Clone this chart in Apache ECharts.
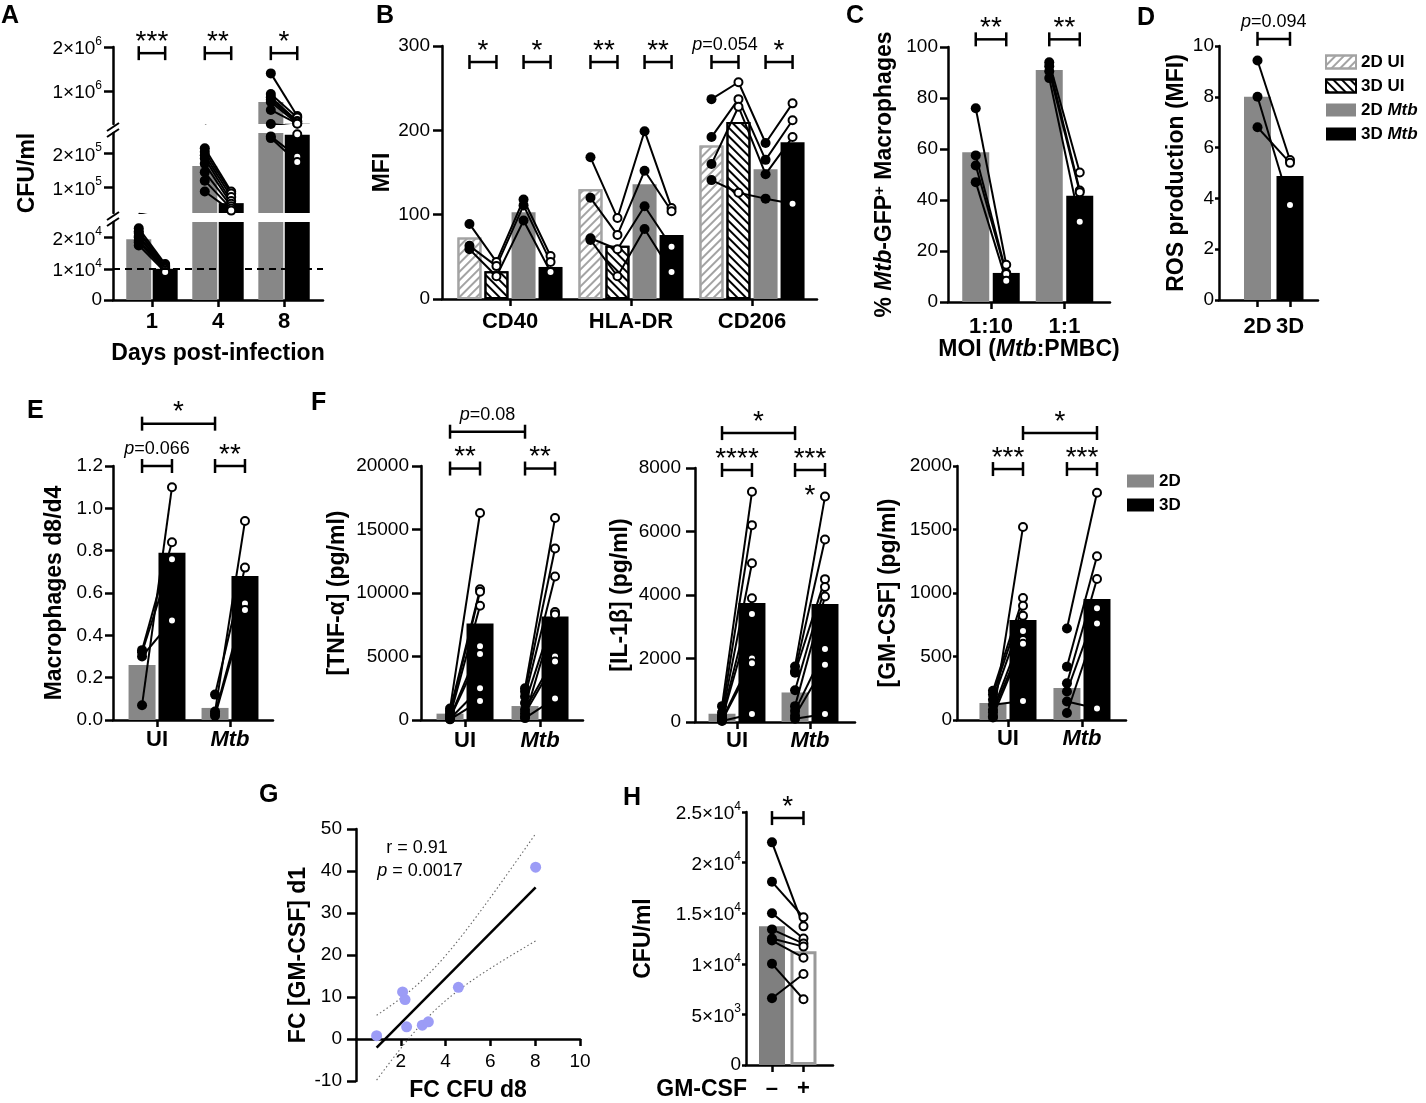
<!DOCTYPE html>
<html>
<head>
<meta charset="utf-8">
<title>Figure</title>
<script src="https://cdn.jsdelivr.net/npm/echarts@6.0.0/dist/echarts.min.js"></script>
<style>
html, body { margin: 0; padding: 0; background: #ffffff; }
#chart { width: 1426px; height: 1103px; }
</style>
</head>
<body>
<div id="chart"></div>
<script>
// ======================= DATA =======================
// Panel A – CFU/ml, days post-infection, 2D vs 3D
const aDays = ['1', '4', '8'];
const aBar2D = [19500, 163000, 750000];
const aBar3D = [10000, 54000, 255000];
const aPts2D = [
  [23000, 22000, 21500, 20500, 20000, 19000, 18500, 17500],
  [215000, 205000, 195000, 185000, 170000, 145000, 120000, 88000],
  [1400000, 930000, 860000, 800000, 750000, 570000, 250000, 245000]
];
const aPts3D = [
  [11500, 11000, 10800, 10500, 10200, 10000, 9500, 9000],
  [88000, 82000, 72000, 60000, 52000, 45000, 38000, 32000],
  [430000, 400000, 320000, 300000, 262000, 256000, 190000, 175000]
];
const aTicksTop = [1000000, 2000000];
const aTicksMid = [100000, 200000];
const aTicksLow = [0, 10000, 20000];
const aDetectionLimit = 10000;
const aSig = ['***', '**', '*'];

// Panel B – MFI of surface markers
const bMarkers = ['CD40', 'HLA-DR', 'CD206'];
const bConds = ['2D UI', '3D UI', '2D Mtb', '3D Mtb'];
const bBar2DUI = [73, 130, 182];
const bBar3DUI = [33, 63, 210];
const bBar2DMtb = [103, 136, 154];
const bBar3DMtb = [38, 76, 186];
const bDonorsCD40 = [[89, 44, 118, 51], [63, 39, 111, 44], [59, 27, 93, 32]];
const bDonorsHLADR = [[168, 96, 199, 108], [120, 76, 152, 104], [72, 59, 110, 62], [70, 27, 83, 32]];
const bDonorsCD206 = [[237, 257, 185, 232], [192, 237, 165, 212], [160, 228, 148, 192], [141, 126, 119, 113]];
const bSig = [['*', '*'], ['**', '**'], ['p=0.054', '*']];

// Panel C – % Mtb-GFP+ macrophages by MOI
const cMOI = ['1:10', '1:1'];
const cBar2D = [58.7, 91];
const cBar3D = [11.4, 41.7];
const cPts2D = [[76, 57.5, 53.5, 47], [94, 92.5, 90.5, 87.8]];
const cPts3D = [[14.6, 11.4, 11.0, 8.3], [50.8, 43.7, 43.0, 31.5]];
const cSig = ['**', '**'];

// Panel D – ROS production
const dGroups = ['2D', '3D'];
const dBar = [8.0, 4.88];
const dPts2D = [9.43, 8.0, 6.8];
const dPts3D = [5.51, 3.74, 5.4];
const dSig = 'p=0.094';

// Panel E – macrophages d8/d4
const eGroups = ['UI', 'Mtb'];
const eBar2D = [0.26, 0.057];
const eBar3D = [0.79, 0.68];
const ePts2D = [[0.07, 0.33, 0.32, 0.30], [0.04, 0.12, 0.03, 0.02]];
const ePts3D = [[1.10, 0.84, 0.76, 0.47], [0.94, 0.72, 0.55, 0.52]];
const eSig = ['p=0.066', '**'];
const eSigAcross = '*';

// Panel F – cytokines
const fGroups = ['UI', 'Mtb'];
const f1Bar2D = [500, 1100];
const f1Bar3D = [7600, 8150];
const f1Pts2D = [[900, 700, 500, 300, 200, 150, 100, 50], [2500, 2240, 1850, 1330, 800, 540, 280, 150]];
const f1Pts3D = [[16300, 10300, 10100, 9000, 5800, 5200, 2500, 1500], [15900, 13500, 11300, 8500, 5000, 4600, 8300, 1700]];
const f1Sig = ['**', '**'];
const f1SigAcross = 'p=0.08';

const f2Bar2D = [260, 930];
const f2Bar3D = [3750, 3720];
const f2Pts2D = [[500, 300, 200, 150, 100, 80, 50, 30], [1750, 1600, 1550, 1000, 500, 350, 200, 100]];
const f2Pts3D = [[7250, 6200, 5000, 3900, 3400, 2000, 1850, 250], [7100, 5750, 4500, 4250, 3950, 2300, 1800, 250]];
const f2Sig = ['****', '***'];
const f2SigAcross = '*';
const f2SigExtra = '*';

const f3Bar2D = [134, 252];
const f3Bar3D = [787, 953];
const f3Pts2D = [[20, 230, 200, 160, 80, 60, 30, 120], [720, 420, 290, 225, 55, 145]];
const f3Pts3D = [[1520, 960, 900, 820, 700, 630, 600, 150], [1790, 1290, 1110, 880, 760, 90]];
const f3Sig = ['***', '***'];
const f3SigAcross = '*';

// Panel G – correlation
const gX = [0.92, 2.08, 2.19, 2.26, 2.96, 3.23, 4.57, 8.02];
const gY = [0.8, 11.2, 9.4, 2.9, 3.3, 4.1, 12.3, 40.9];
const gRText = 'r = 0.91';
const gPText = 'p = 0.0017';

// Panel H – GM-CSF supplementation
const hGroups = ['–', '+'];
const hBar = [13700, 11250];
const hMinus = [22000, 18100, 15000, 13400, 12500, 12300, 10000, 6600];
const hPlus = [13700, 14600, 12500, 12000, 11700, 10600, 6500, 9000];
const hSig = '*';

// ======================= STYLE / HELPERS =======================
const FONT = '"Liberation Sans", Arial, Helvetica, sans-serif';
const INK = '#000000';
const GRAY = '#878787';
const HATCH_GRAY = '#a3a3a3';
const TICK_FS = 19, CAT_FS = 22, NAME_FS = 23;

function rich(fs, bold) {
  const sub = Math.round(fs * 0.62);
  return {
    i: {fontStyle: 'italic', fontWeight: bold ? 'bold' : 'normal', fontSize: fs, fontFamily: FONT, color: INK},
    m: {fontSize: fs, fontFamily: FONT, color: INK, lineHeight: fs + 4, verticalAlign: 'bottom'},
    s: {fontSize: sub, fontFamily: FONT, color: INK, lineHeight: sub + 1, verticalAlign: 'top'},
    sup: {fontSize: sub + 1, fontWeight: bold ? 'bold' : 'normal', fontFamily: FONT, color: INK, lineHeight: sub + 2, verticalAlign: 'top'}
  };
}
const ital = s => s.replace('Mtb', '{i|Mtb}');
const plain = v => String(v);
function sci(v) {
  if (v === 0) return '0';
  const e = Math.floor(Math.log10(v) + 1e-9);
  const m = Math.round(v / Math.pow(10, e) * 100) / 100;
  return '{m|' + m + '×10}{s|' + e + '}';
}

const grids = [], xAxes = [], yAxes = [], series = [];

function addGrid(o) {
  const gi = grids.length;
  const X = o.x, Y = o.y;
  grids.push({left: o.left, top: o.top, width: o.width, height: o.height, outerBoundsMode: 'none', containLabel: false});
  const xfs = X.fs || CAT_FS, xbold = X.fw !== 'normal';
  xAxes.push({
    type: 'value', gridIndex: gi, min: X.min, max: X.max, interval: X.interval, show: X.show !== false,
    axisLine: {show: true, onZero: false, lineStyle: {color: INK, width: 2.5}},
    axisTick: {show: true, length: X.tick || 7, customValues: X.ticks, lineStyle: {color: INK, width: 2.5}},
    axisLabel: {show: true, customValues: X.ticks, formatter: X.fmt || plain, margin: X.margin, showMinLabel: X.showMinLabel,
      color: INK, fontFamily: FONT, fontSize: xfs, fontWeight: xbold ? 'bold' : 'normal', rich: rich(xfs, xbold)},
    splitLine: {show: false},
    name: X.name || '', nameLocation: 'middle', nameGap: X.nameGap || 30, nameMoveOverlap: false,
    nameTextStyle: {color: INK, fontFamily: FONT, fontSize: NAME_FS, fontWeight: 'bold', rich: rich(NAME_FS, true)}
  });
  yAxes.push({
    type: 'value', gridIndex: gi, min: Y.min, max: Y.max, interval: Y.interval, show: Y.show !== false,
    axisLine: {show: true, onZero: false, lineStyle: {color: INK, width: 2.5}},
    axisTick: {show: true, length: Y.tick || 8, customValues: Y.ticks, lineStyle: {color: INK, width: 2.5}},
    axisLabel: {show: true, customValues: Y.ticks, formatter: Y.fmt || plain, margin: Y.margin,
      color: INK, fontFamily: FONT, fontSize: TICK_FS, rich: rich(TICK_FS, false)},
    splitLine: {show: false},
    name: Y.name || '', nameLocation: 'middle', nameGap: Y.nameGap || 30, nameRotate: 90, nameMoveOverlap: false,
    nameTextStyle: {color: INK, fontFamily: FONT, fontSize: NAME_FS, fontWeight: 'bold', lineHeight: Y.nameLH, rich: rich(NAME_FS, true)}
  });
  return gi;
}

function bars(gi, name, pts, style, bw, extra) {
  series.push(Object.assign({
    type: 'bar', name: name, xAxisIndex: gi, yAxisIndex: gi, data: pts, barWidth: bw, barGap: '-100%',
    itemStyle: style, z: 2, silent: true, clip: true
  }, extra || {}));
}
function path(gi, pts) {
  series.push({type: 'line', xAxisIndex: gi, yAxisIndex: gi, data: pts, symbol: 'none', showSymbol: false,
    lineStyle: {color: INK, width: 2}, z: 3, silent: true, clip: true});
}
function dots(gi, pts, open) {
  series.push({type: 'scatter', xAxisIndex: gi, yAxisIndex: gi, data: pts, symbol: 'circle',
    symbolSize: open ? 8 : 10,
    itemStyle: open ? {color: '#ffffff', borderColor: INK, borderWidth: 2, opacity: 1} : {color: INK, opacity: 1},
    z: 4, silent: true, clip: true});
}
// xs: x position of each step along a donor's path, vals[k][d]: value of donor d at step k
function paired(gi, xs, vals, open) {
  const n = vals[0].length;
  for (let d = 0; d < n; d++) path(gi, xs.map((x, k) => [x, vals[k][d]]));
  xs.forEach((x, k) => dots(gi, vals[k].map(v => [x, v]), open[k]));
}
// items: [x1, x2, y, label]
function brackets(gi, items) {
  series.push({
    type: 'custom', xAxisIndex: gi, yAxisIndex: gi, z: 6, silent: true, clip: false,
    data: items.map(it => [it[0], it[2], it[1]]),
    renderItem: function (params, api) {
      const it = items[params.dataIndex];
      const a = api.coord([it[0], it[2]]), b = api.coord([it[1], it[2]]);
      const y = a[1], cap = 7;
      const ln = (x1, y1, x2, y2) => ({type: 'line', shape: {x1: x1, y1: y1, x2: x2, y2: y2}, style: {stroke: INK, lineWidth: 2.5}});
      const isP = it[3].charAt(0) === 'p';
      const txt = isP ? '{i|p}' + it[3].slice(1) : it[3];
      return {type: 'group', children: [
        ln(a[0], y, b[0], y), ln(a[0], y - cap, a[0], y + cap), ln(b[0], y - cap, b[0], y + cap),
        {type: 'text', x: (a[0] + b[0]) / 2, y: y - (isP ? 17 : 11),
          style: {text: txt, fill: INK, fontFamily: FONT, fontSize: isP ? 18 : 28, align: 'center', verticalAlign: 'middle',
            rich: {i: {fontStyle: 'italic', fontSize: 18, fontFamily: FONT, fill: INK}}}}
      ]};
    }
  });
}

// ======================= PANEL A =======================
const aOff = [-0.2, 0.2];
const aSegs = [
  {top: 47, height: 77, min: 250000, max: 2000000, ticks: aTicksTop},
  {top: 133, height: 80, min: 25000, max: 260000, ticks: aTicksMid},
  {top: 222, height: 78, min: 0, max: 25000, ticks: aTicksLow}
];
aSegs.forEach((s, k) => {
  const last = k === 2;
  const gi = addGrid({left: 113, top: s.top, width: 210, height: s.height,
    x: {min: -0.59, max: 2.59, show: last, ticks: [0, 1, 2], fmt: v => aDays[Math.round(v)], margin: 11,
        name: last ? 'Days post-infection' : '', nameGap: 42},
    y: {min: s.min, max: s.max, ticks: s.ticks, fmt: sci, margin: 11, tick: 9,
        name: k === 1 ? 'CFU/ml' : '', nameGap: 74}});
  bars(gi, '2D', aBar2D.map((v, g) => [g + aOff[0], v]), {color: GRAY}, 25);
  bars(gi, '3D', aBar3D.map((v, g) => [g + aOff[1], v]), {color: INK}, 25, last ? {
    markLine: {silent: true, symbol: ['none', 'none'], label: {show: false}, animation: false,
      lineStyle: {color: INK, type: [7, 5], width: 2}, data: [{yAxis: aDetectionLimit}]}
  } : null);
  aDays.forEach((d, g) => paired(gi, [g + aOff[0], g + aOff[1]], [aPts2D[g], aPts3D[g]], [false, true]));
  if (k === 0) brackets(gi, aDays.map((d, g) => [g + aOff[0], g + aOff[1], 1860000, aSig[g]]));
});

// ======================= PANEL B =======================
const bOff = [-0.335, -0.112, 0.112, 0.335];
const giB = addGrid({left: 442, top: 46, width: 375, height: 253,
  x: {min: -0.562, max: 2.537, ticks: [0, 1, 2], fmt: v => bMarkers[Math.round(v)], margin: 12},
  y: {min: 0, max: 300, interval: 100, name: 'MFI', nameGap: 48, margin: 12, tick: 9}});
const bBars = [bBar2DUI, bBar3DUI, bBar2DMtb, bBar3DMtb];
const bDonors = [bDonorsCD40, bDonorsHLADR, bDonorsCD206];
const bStyles = [
  {color: '#ffffff', borderColor: HATCH_GRAY, borderWidth: 2,
    decal: {symbol: 'rect', symbolSize: 1, dashArrayX: [1, 0], dashArrayY: [2, 4], rotation: -Math.PI / 4, color: HATCH_GRAY}},
  {color: '#ffffff', borderColor: INK, borderWidth: 2,
    decal: {symbol: 'rect', symbolSize: 1, dashArrayX: [1, 0], dashArrayY: [2, 4], rotation: Math.PI / 4, color: INK}},
  {color: GRAY},
  {color: INK}
];
bConds.forEach((c, k) => bars(giB, c, bBars[k].map((v, g) => [g + bOff[k], v]), bStyles[k], 24));
bMarkers.forEach((m, g) => {
  const xs = bOff.map(o => g + o);
  const vals = xs.map((x, k) => bDonors[g].map(dn => dn[k]));
  paired(giB, xs, vals, [false, true, false, true]);
});
const bBr = [];
bMarkers.forEach((m, g) => {
  bBr.push([g + bOff[0], g + bOff[1], 281, bSig[g][0]]);
  bBr.push([g + bOff[2], g + bOff[3], 281, bSig[g][1]]);
});
brackets(giB, bBr);

// ======================= PANEL C =======================
const cOff = [-0.2075, 0.2075];
const giC = addGrid({left: 948, top: 47, width: 162, height: 255,
  x: {min: -0.585, max: 1.619, ticks: [0, 1], fmt: v => cMOI[Math.round(v)], margin: 14,
      name: 'MOI ({i|Mtb}:PMBC)', nameGap: 36},
  y: {min: 0, max: 100, interval: 20, name: '% {i|Mtb}-GFP{sup|+} Macrophages', nameGap: 50, margin: 10, nameLH: 26}});
bars(giC, '2D Mtb', cBar2D.map((v, g) => [g + cOff[0], v]), {color: GRAY}, 27);
bars(giC, '3D Mtb', cBar3D.map((v, g) => [g + cOff[1], v]), {color: INK}, 27);
cMOI.forEach((m, g) => paired(giC, [g + cOff[0], g + cOff[1]], [cPts2D[g], cPts3D[g]], [false, true]));
brackets(giC, cMOI.map((m, g) => [g + cOff[0], g + cOff[1], 103, cSig[g]]));

// ======================= PANEL D =======================
const giD = addGrid({left: 1219, top: 46, width: 99, height: 254,
  x: {min: -1.185, max: 1.862, ticks: [0, 1], fmt: v => dGroups[Math.round(v)], margin: 16},
  y: {min: 0, max: 10, interval: 2, name: 'ROS production (MFI)', nameGap: 31, margin: 5, tick: 4}});
bars(giD, '2D Mtb', [[0, dBar[0]]], {color: GRAY}, 27);
bars(giD, '3D Mtb', [[1, dBar[1]]], {color: INK}, 27);
paired(giD, [0, 1], [dPts2D, dPts3D], [false, true]);
brackets(giD, [[0, 1, 10.28, dSig]]);

// ======================= PANEL E =======================
const eOff = [-0.205, 0.205];
const giE = addGrid({left: 113, top: 466, width: 160, height: 254,
  x: {min: -0.603, max: 1.589, ticks: [0, 1], fmt: v => ital(eGroups[Math.round(v)]), margin: 9},
  y: {min: 0, max: 1.2, interval: 0.2, fmt: v => v.toFixed(1), name: 'Macrophages d8/d4', nameGap: 47, margin: 10}});
bars(giE, '2D', eBar2D.map((v, g) => [g + eOff[0], v]), {color: GRAY}, 27);
bars(giE, '3D', eBar3D.map((v, g) => [g + eOff[1], v]), {color: INK}, 27);
eGroups.forEach((m, g) => paired(giE, [g + eOff[0], g + eOff[1]], [ePts2D[g], ePts3D[g]], [false, true]));
brackets(giE, [[eOff[0], eOff[1], 1.2, eSig[0]], [1 + eOff[0], 1 + eOff[1], 1.2, eSig[1]], [eOff[0], 1 + eOff[0], 1.40, eSigAcross]]);

// ======================= PANEL F =======================
function cytokine(g, off, b2, b3, p2, p3, sig, acrossFrom, acrossTo, across, innerY, outerY) {
  bars(g, '2D', b2.map((v, i) => [i + off[0], v]), {color: GRAY}, 27);
  bars(g, '3D', b3.map((v, i) => [i + off[1], v]), {color: INK}, 27);
  fGroups.forEach((m, i) => paired(g, [i + off[0], i + off[1]], [p2[i], p3[i]], [false, true]));
  brackets(g, [[off[0], off[1], innerY, sig[0]], [1 + off[0], 1 + off[1], innerY, sig[1]], [acrossFrom, acrossTo, outerY, across]]);
}
const fFmt = v => ital(fGroups[Math.round(v)]);
const f1Off = [-0.2, 0.2];
const giF1 = addGrid({left: 421, top: 466, width: 162, height: 254,
  x: {min: -0.587, max: 1.573, ticks: [0, 1], fmt: fFmt, margin: 10},
  y: {min: 0, max: 20000, interval: 5000, name: '[TNF-α] (pg/ml)', nameGap: 72, margin: 12, tick: 9}});
cytokine(giF1, f1Off, f1Bar2D, f1Bar3D, f1Pts2D, f1Pts3D, f1Sig, f1Off[0], 1 + f1Off[0], f1SigAcross, 19800, 22700);

const f2Off = [-0.205, 0.205];
const giF2 = addGrid({left: 695, top: 468, width: 160, height: 254,
  x: {min: -0.575, max: 1.616, ticks: [0, 1], fmt: fFmt, margin: 8},
  y: {min: 0, max: 8000, interval: 2000, name: '[IL-1β] (pg/ml)', nameGap: 63, margin: 14, tick: 9}});
cytokine(giF2, f2Off, f2Bar2D, f2Bar3D, f2Pts2D, f2Pts3D, f2Sig, f2Off[0], 1 + f2Off[0], f2SigAcross, 7937, 9100);

const f3Off = [-0.203, 0.203];
const giF3 = addGrid({left: 957, top: 466, width: 169, height: 254,
  x: {min: -0.689, max: 1.595, ticks: [0, 1], fmt: fFmt, margin: 8},
  y: {min: 0, max: 2000, interval: 500, name: '[GM-CSF] (pg/ml)', nameGap: 57, margin: 5, tick: 4}});
cytokine(giF3, f3Off, f3Bar2D, f3Bar3D, f3Pts2D, f3Pts3D, f3Sig, f3Off[1], 1 + f3Off[1], f3SigAcross, 1976, 2260);

// ======================= PANEL G =======================
// main plotting grid (y from -10 to 50) and an overlay grid whose bottom edge is y = 0 for the x axis
const giG = addGrid({left: 356, top: 829, width: 224, height: 252,
  x: {min: 0, max: 10, interval: 2, show: false},
  y: {min: -10, max: 50, interval: 10, name: 'FC [GM-CSF] d1', nameGap: 46, margin: 14, tick: 9}});
const giGx = addGrid({left: 356, top: 829, width: 224, height: 210,
  x: {min: 0, max: 10, interval: 2, fs: TICK_FS, fw: 'normal', showMinLabel: false, margin: 13,
      name: 'FC CFU d8', nameGap: 40},
  y: {min: 0, max: 50, interval: 10, show: false}});
const gN = gX.length;
const gMx = gX.reduce((s, v) => s + v, 0) / gN;
const gMy = gY.reduce((s, v) => s + v, 0) / gN;
let gSxx = 0, gSxy = 0;
for (let i = 0; i < gN; i++) { gSxx += (gX[i] - gMx) ** 2; gSxy += (gX[i] - gMx) * (gY[i] - gMy); }
const gB1 = gSxy / gSxx, gB0 = gMy - gB1 * gMx;
let gSse = 0;
for (let i = 0; i < gN; i++) gSse += (gY[i] - gB0 - gB1 * gX[i]) ** 2;
const gS = Math.sqrt(gSse / (gN - 2));
const T975_DF6 = 2.447;
const gLo = Math.min(...gX), gHi = Math.max(...gX);
const gBand = sign => Array.from({length: 41}, (_, i) => {
  const x = gLo + (gHi - gLo) * i / 40;
  const h = T975_DF6 * gS * Math.sqrt(1 / gN + (x - gMx) ** 2 / gSxx);
  return [x, gB0 + gB1 * x + sign * h];
});
[1, -1].forEach(sg => series.push({type: 'line', xAxisIndex: giG, yAxisIndex: giG, data: gBand(sg), symbol: 'none',
  showSymbol: false, lineStyle: {color: '#666666', width: 1.1, type: [1.5, 2.5]}, z: 3, silent: true}));
series.push({type: 'line', xAxisIndex: giG, yAxisIndex: giG, data: [[gLo, gB0 + gB1 * gLo], [gHi, gB0 + gB1 * gHi]],
  symbol: 'none', showSymbol: false, lineStyle: {color: INK, width: 2.5}, z: 3, silent: true});
series.push({type: 'scatter', xAxisIndex: giG, yAxisIndex: giG, data: gX.map((x, i) => [x, gY[i]]),
  symbolSize: 11, itemStyle: {color: '#9c9cf6', opacity: 1}, z: 4, silent: true});

// ======================= PANEL H =======================
const giH = addGrid({left: 746, top: 812, width: 87, height: 253,
  x: {min: -0.825, max: 1.937, ticks: [0, 1], fmt: v => hGroups[Math.round(v)], margin: 13},
  y: {min: 0, max: 25000, interval: 5000, fmt: sci, name: 'CFU/ml', nameGap: 91, margin: 5, tick: 4}});
bars(giH, 'GM-CSF –', [[0, hBar[0]]], {color: '#7f7f7f'}, 26);
bars(giH, 'GM-CSF +', [[1, hBar[1]]], {color: '#ffffff', borderColor: '#999999', borderWidth: 3}, 26);
paired(giH, [0, 1], [hMinus, hPlus], [false, true]);
brackets(giH, [[0, 1, 24400, hSig]]);

// ======================= GRAPHICS (letters, notes) =======================
const letters = [['A', 1, 4], ['B', 376, 4], ['C', 846, 4], ['D', 1137, 6], ['E', 27, 399], ['F', 311, 391], ['G', 259, 783], ['H', 623, 786]];
const graphic = letters.map(l => ({type: 'text', x: l[1], y: l[2], silent: true,
  style: {text: l[0], fontSize: 25, fontWeight: 'bold', fontFamily: FONT, fill: INK, verticalAlign: 'top'}}));
const ln = (x1, y1, x2, y2) => ({type: 'line', silent: true, shape: {x1, y1, x2, y2}, style: {stroke: INK, lineWidth: 2}});
graphic.push(ln(107, 131, 119, 123), ln(107, 137, 119, 129), ln(107, 220, 119, 212), ln(107, 226, 119, 218));
graphic.push({type: 'text', x: 417, y: 848, silent: true,
  style: {text: gRText, fontSize: 18, fontFamily: FONT, fill: INK, align: 'center', verticalAlign: 'middle'}});
graphic.push({type: 'text', x: 420, y: 871, silent: true,
  style: {text: '{i|p}' + gPText.slice(1), fontSize: 18, fontFamily: FONT, fill: INK, align: 'center', verticalAlign: 'middle',
    rich: {i: {fontStyle: 'italic', fontSize: 18, fontFamily: FONT, fill: INK}}}});
graphic.push({type: 'text', x: 810, y: 496, silent: true,
  style: {text: f2SigExtra, fontSize: 28, fontFamily: FONT, fill: INK, align: 'center', verticalAlign: 'middle'}});
graphic.push({type: 'text', x: 747, y: 1090, silent: true,
  style: {text: 'GM-CSF', fontSize: 23, fontWeight: 'bold', fontFamily: FONT, fill: INK, align: 'right', verticalAlign: 'middle'}});

const legendText = {fontSize: 17, fontWeight: 'bold', fontFamily: FONT, color: INK, lineHeight: 18,
  rich: {i: {fontStyle: 'italic', fontWeight: 'bold', fontSize: 17, fontFamily: FONT, color: INK}}};

const chart = echarts.init(document.getElementById('chart'), null, {renderer: 'canvas'});
chart.setOption({
  animation: false,
  backgroundColor: '#ffffff',
  textStyle: {fontFamily: FONT},
  grid: grids,
  xAxis: xAxes,
  yAxis: yAxes,
  legend: [
    {data: bConds.map(n => ({name: n, icon: 'rect'})), orient: 'vertical', left: 1325, top: 53, padding: 0,
      itemWidth: 30, itemHeight: 13, itemGap: 6, selectedMode: false, formatter: ital, textStyle: legendText},
    {data: ['2D', '3D'].map(n => ({name: n, icon: 'rect'})), orient: 'vertical', left: 1127, top: 472, padding: 0,
      itemWidth: 27, itemHeight: 13, itemGap: 6, selectedMode: false, textStyle: legendText}
  ],
  graphic: graphic,
  series: series
});
</script>
</body>
</html>
